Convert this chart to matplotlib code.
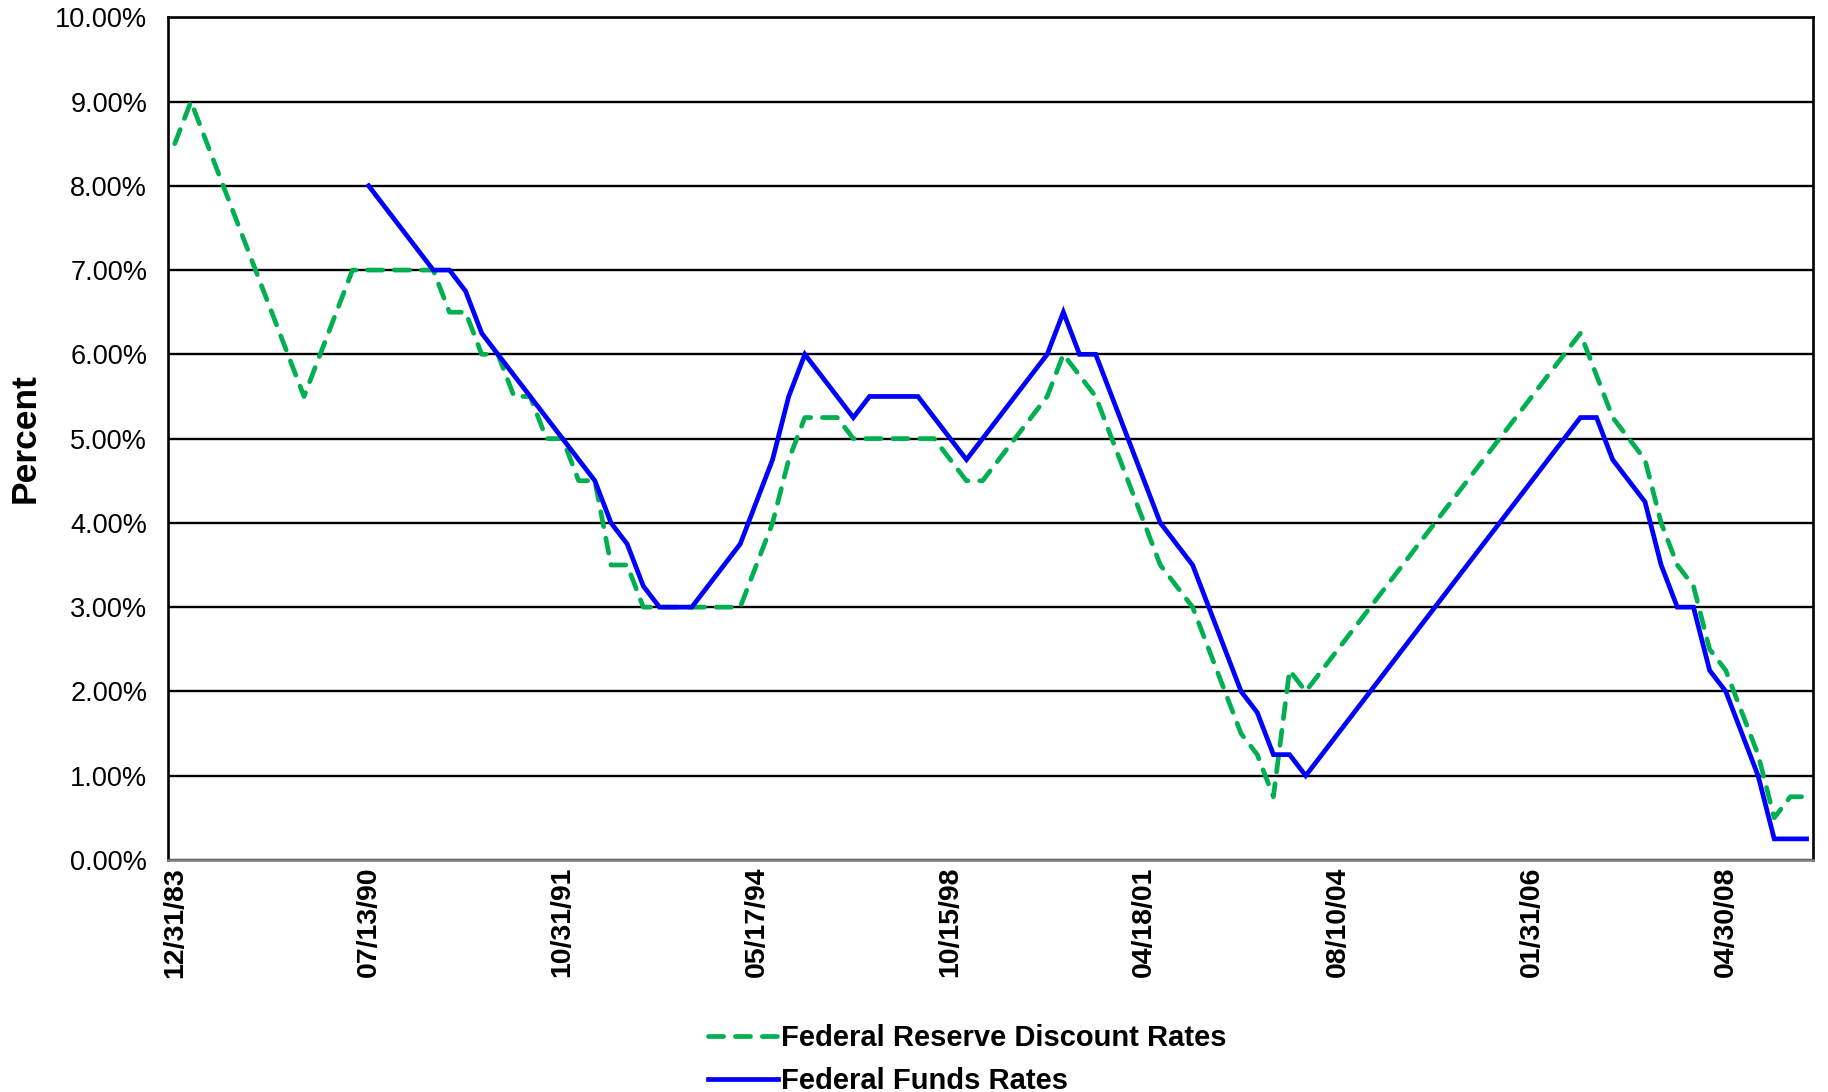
import numpy as np
import matplotlib
matplotlib.use("Agg")
import matplotlib.pyplot as plt

plt.rcParams['font.family'] = ['Liberation Sans', 'DejaVu Sans']

# category labels shown on the axis (every 12th date)
tick_labels = ['12/31/83', '07/13/90', '10/31/91', '05/17/94', '10/15/98',
               '04/18/01', '08/10/04', '01/31/06', '04/30/08']
label_step = 12

# Federal Reserve discount rate, one value per date
discount = [8.5, 9.0, 8.5, 8.0, 7.5, 7.0, 6.5, 6.0, 5.5, 6.0, 6.5, 7.0,
            7.0, 7.0, 7.0, 7.0, 7.0, 6.5, 6.5, 6.0, 6.0, 5.5, 5.5, 5.0,
            5.0, 4.5, 4.5, 3.5, 3.5, 3.0, 3.0, 3.0, 3.0, 3.0, 3.0, 3.0,
            3.5, 4.0, 4.75, 5.25, 5.25, 5.25, 5.0, 5.0, 5.0, 5.0, 5.0, 5.0,
            4.75, 4.5, 4.5, 4.75, 5.0, 5.25, 5.5, 6.0, 5.75, 5.5, 5.0, 4.5,
            4.0, 3.5, 3.25, 3.0, 2.5, 2.0, 1.5, 1.25, 0.75, 2.25, 2.0, 2.25,
            2.5, 2.75, 3.0, 3.25, 3.5, 3.75, 4.0, 4.25, 4.5, 4.75, 5.0, 5.25,
            5.5, 5.75, 6.0, 6.25, 5.75, 5.25, 5.0, 4.75, 4.0, 3.5, 3.25, 2.5,
            2.25, 1.75, 1.25, 0.5, 0.75, 0.75]

# Federal funds target rate (no data before 07/13/90)
nan = np.nan
funds = [nan, nan, nan, nan, nan, nan, nan, nan, nan, nan, nan, nan,
         8.0, 7.75, 7.5, 7.25, 7.0, 7.0, 6.75, 6.25, 6.0, 5.75, 5.5, 5.25,
         5.0, 4.75, 4.5, 4.0, 3.75, 3.25, 3.0, 3.0, 3.0, 3.25, 3.5, 3.75,
         4.25, 4.75, 5.5, 6.0, 5.75, 5.5, 5.25, 5.5, 5.5, 5.5, 5.5, 5.25,
         5.0, 4.75, 5.0, 5.25, 5.5, 5.75, 6.0, 6.5, 6.0, 6.0, 5.5, 5.0,
         4.5, 4.0, 3.75, 3.5, 3.0, 2.5, 2.0, 1.75, 1.25, 1.25, 1.0, 1.25,
         1.5, 1.75, 2.0, 2.25, 2.5, 2.75, 3.0, 3.25, 3.5, 3.75, 4.0, 4.25,
         4.5, 4.75, 5.0, 5.25, 5.25, 4.75, 4.5, 4.25, 3.5, 3.0, 3.0, 2.25,
         2.0, 1.5, 1.0, 0.25, 0.25, 0.25]

x = np.arange(len(discount))

fig = plt.figure(figsize=(18.28, 10.92), dpi=100)
ax = fig.add_axes([0.0919, 0.2125, 0.8999, 0.7717])

ax.plot(x, discount, color='#00B050', lw=3.4, linestyle=(0, (3.2, 2.5)),
        dash_capstyle='round', solid_capstyle='round', label='Federal Reserve Discount Rates', zorder=3)
ax.plot(x, funds, color='#0000FF', lw=3.4, solid_joinstyle='miter',
        label='Federal Funds Rates', zorder=4)

ax.set_ylim(0, 10)
ax.set_xlim(-0.42, len(discount) - 0.6)
ax.set_yticks(np.arange(0, 11, 1))
ax.set_yticklabels(['%.2f%%' % v for v in np.arange(0, 11, 1)], fontsize=19.5)
ax.set_xticks(np.arange(0, len(tick_labels) * label_step, label_step))
ax.set_xticklabels(tick_labels, rotation=90, fontsize=20.5, fontweight='bold')
ax.tick_params(axis='y', length=0, pad=15)
ax.tick_params(axis='x', length=0, pad=5)

ax.grid(axis='y', color='black', lw=1.7)
ax.set_axisbelow(True)
for side in ['left', 'top', 'right']:
    ax.spines[side].set_color('black')
    ax.spines[side].set_linewidth(1.9)
ax.spines['bottom'].set_color('#808080')
ax.spines['bottom'].set_linewidth(1.9)

fig.text(25 / 1828, 0.599, 'Percent', rotation=90, ha='center', va='center',
         fontsize=25.5, fontweight='bold')

fig.legend(loc='lower left', bbox_to_anchor=(0.3792, -0.016), frameon=False,
           prop={'weight': 'bold', 'size': 21}, handlelength=2.4,
           handletextpad=0.12, labelspacing=0.52, borderpad=0)

fig.savefig('out.png', dpi=100)
